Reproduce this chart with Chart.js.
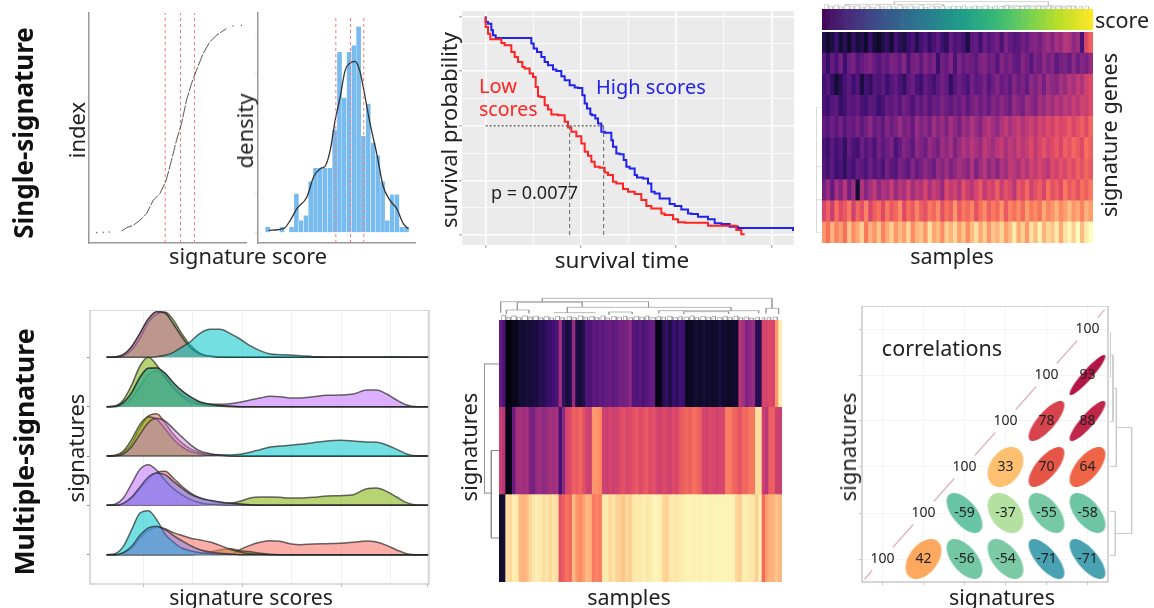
<!DOCTYPE html>
<html><head><meta charset="utf-8">
<style>
html,body{margin:0;padding:0;background:#fff;width:1154px;height:608px;overflow:hidden}
#root{position:absolute;left:0;top:0;width:1154px;height:608px;filter:blur(0.5px)}
canvas{position:absolute}
.t{position:absolute;font-family:"Noto Sans",sans-serif;color:#222;white-space:pre;line-height:1;transform:translate(-50%,-50%)}
.r{transform:translate(-50%,-50%) rotate(-90deg)}
</style>
<script src="https://cdn.jsdelivr.net/npm/chart.js@4"></script>
</head><body><div id="root"></div>
<script>
// ---------- panel 1: ranked signature scores
const rankCurveScore=[98,113,133,153,173,193,213,232,248,263,278,293,308,323,343,363,383,413];
const rankCurveIndex=[36,46,53,68,88,128,148,188,248,308,358,428,478,518,568,603,623,643];
const rankDotsScore=[23,43,61,433,458,483];
const rankDotsIndex=[31,32,33,651,653,654];
const quartileScores=[229,275,317];
// ---------- panel 2: histogram and density
const histBins=[29,43.4,57.8,72.2,86.6,101,115.4,129.8,144.2,158.6,173,187.4,201.8,216.2,230.6,245,259.4,273.8,288.2,302.6,317,331.4,345.8,360.2,374.6,389,403.4,417.8,432.2,446.6];
const histHeights=[17,0,0,17,0,17,117,37,52,154,194,194,194,194,309,542,405,542,562,619,290,387,270,232,154,37,115,115,17,17];
const densityX=[32,77,97,117,147,167,187,202,217,232,247,262,277,292,307,322,337,357,377,397,417,437,452];
const densityY=[7,12,37,72,107,167,192,200,247,337,407,487,509,514,482,407,327,237,137,97,72,27,12];
const densityQuartiles=[234,278,318];
// ---------- panel 3: survival curves
const highTime=[0,7,17,22,30,37,137,144,154,167,177,187,202,212,227,237,252,267,277,290,297,304,314,319,329,337,347,357,377,382,392,402,414,422,432,447,454,472,487,497,507,522,552,567,587,607,617,637,667,687,707,732,757,777,787,922,925];
const highSurv=[657,640,635,615,600,592,592,575,560,550,535,520,510,497,493,477,465,450,443,442,420,395,380,363,360,350,335,310,307,285,265,245,243,225,205,200,180,173,170,155,130,125,110,93,87,77,65,63,55,47,35,33,25,21,21,21,15];
const lowTime=[0,7,14,20,47,57,77,87,97,110,117,132,142,150,157,164,177,187,197,217,237,247,257,272,287,297,307,317,327,342,357,367,382,392,412,427,447,467,482,497,527,537,562,577,597,667,672,752,767,777];
const lowSurv=[655,625,605,588,588,577,570,550,535,520,505,500,485,475,445,417,415,390,377,362,360,340,323,310,297,275,250,238,220,205,202,188,180,160,155,138,130,123,105,87,80,65,60,47,38,37,28,28,15,2];
const medianSurvival=328;
const medianTimes=[252,354];
// ---------- panel 4: signature heatmap ordered by score
const scoreBar=[2,4,6,7,9,11,12,14,16,17,19,21,22,24,26,27,29,30,32,34,35,37,38,40,42,43,45,46,48,50,51,53,54,56,57,59,60,62,63,65,66,68,69,71,72,74,75,77,78,80,81,83,84,86,87,89,90,92,93,94,96,97,98,100];
const geneRow1=[14,8,12,20,9,16,7,18,11,14,8,20,10,7,13,18,10,22,16,12,20,24,14,22,26,18,24,28,20,16,30,24,26,22,12,28,30,22,32,26,30,34,24,36,30,26,28,34,30,36,38,34,40,44,38,46,42,50,48,40,44,24,60,66];
const geneRow2=[28,18,30,24,34,20,32,36,26,30,34,36,30,26,32,28,36,34,30,38,24,34,36,28,38,32,36,20,34,30,38,24,36,30,34,32,28,36,38,32,34,26,38,32,36,30,28,38,34,26,36,32,40,34,38,28,34,36,30,40,32,38,34,42];
const geneRow3=[22,26,18,10,16,24,28,20,26,12,22,18,26,24,28,20,26,30,24,18,28,32,24,20,30,26,22,28,34,30,18,26,32,28,24,34,28,30,36,26,32,38,30,34,28,38,32,36,30,40,36,42,34,44,40,38,46,42,50,46,52,48,56,60];
const geneRow4=[24,20,26,28,18,22,28,26,30,24,22,28,26,20,24,30,28,32,26,34,30,24,32,28,34,26,32,30,36,32,28,34,30,36,28,34,38,32,36,30,38,34,40,36,32,42,38,34,44,40,36,46,42,48,44,50,46,52,48,54,50,56,54,60];
const geneRow5=[30,26,32,28,34,26,32,30,36,28,34,40,30,34,28,38,32,36,42,34,38,30,42,36,40,34,44,38,42,36,46,40,34,44,40,48,42,38,46,50,44,40,48,52,46,50,54,48,52,56,50,58,54,60,56,62,58,60,64,58,62,66,60,68];
const geneRow6=[24,20,28,22,26,18,30,24,22,32,26,30,24,34,28,32,36,24,30,38,34,28,40,36,32,42,38,34,44,40,46,36,42,48,44,50,46,42,52,48,44,50,54,46,52,48,56,50,54,60,52,58,62,56,60,64,58,66,62,68,64,60,70,66];
const geneRow7=[26,22,28,20,24,18,26,22,30,28,24,32,26,30,24,34,28,26,36,32,28,38,30,34,40,36,32,42,38,44,36,40,46,42,38,48,36,44,50,40,46,38,48,44,52,50,46,54,48,56,52,58,54,50,60,56,62,58,64,60,66,62,68,64];
const geneRow8=[34,42,30,46,38,50,34,44,10,48,38,46,52,40,48,44,54,42,50,46,56,44,52,48,58,46,54,50,42,60,52,56,48,62,54,50,58,64,52,60,56,66,54,62,58,50,64,60,68,56,62,66,58,70,62,66,60,72,64,68,62,70,66,72];
const geneRow9=[58,66,54,70,60,64,72,56,68,62,74,58,66,70,60,72,64,68,76,60,70,64,74,66,62,72,68,76,62,70,66,78,64,72,68,74,62,70,76,66,72,68,78,64,74,70,76,68,80,72,76,70,82,74,78,84,76,80,86,78,82,74,84,80];
const geneRow10=[78,70,84,74,80,70,88,76,82,90,72,84,78,88,74,82,90,78,86,80,92,76,84,88,78,94,82,86,76,90,84,92,80,88,76,86,94,82,90,78,88,84,92,80,86,96,82,90,78,94,86,98,84,92,88,96,82,94,98,90,100,86,96,100];
// ---------- panel 5: ridgelines
const ridgeX=[320,345,370,395,420,445,470,495,520,545,570,600,630,660,690,720,750,780,810,840,870,900,940,980,1020,1060,1100,1130,1160,1190,1220,1250,1285];
const ridgeBases=[680,532,384,236,88];
const r1Red=[0,1,8,32,72,115,137,133,100,62,30,10,3,1,0,0,0,0,0,0,0,0,0,0,0,0,0,0,0,0,0,0,0];
const r1Green=[0,0,4,22,58,105,130,136,112,72,38,12,3,1,0,0,0,0,0,0,0,0,0,0,0,0,0,0,0,0,0,0,0];
const r1Cyan=[0,0,0,0,0,0,2,6,15,30,46,72,84,84,72,55,35,20,10,8,7,5,2,0,0,0,0,0,1,2,0,0,0];
const r2Purple=[0,0,5,25,60,95,108,90,62,38,22,10,7,7,9,13,20,26,31,30,26,26,30,34,35,38,50,50,38,20,5,0,0];
const r2Olive=[0,2,20,65,122,148,125,88,55,32,15,7,3,1,0,0,0,0,0,0,0,0,0,0,0,0,0,0,0,0,0,0,0];
const r2Cyan=[0,1,12,42,88,115,116,100,72,48,30,14,7,3,1,0,0,0,0,0,0,0,0,0,0,0,0,0,0,0,0,0,0];
const r3Purple=[0,0,6,28,65,100,113,105,82,58,35,15,7,3,1,0,0,0,0,0,0,0,0,0,0,0,0,0,0,0,0,0,0];
const r3Olive=[0,2,15,50,95,118,110,82,50,28,14,6,2,1,0,0,0,0,0,0,0,0,0,0,0,0,0,0,0,0,0,0,0];
const r3Red=[0,1,10,38,85,120,127,100,65,40,22,10,5,2,1,0,0,0,0,0,0,0,0,0,0,0,0,0,0,0,0,0,0];
const r3Cyan=[0,0,0,0,0,0,0,0,0,0,0,0,1,2,3,5,11,19,27,30,32,35,40,45,47,45,42,41,33,20,6,0,0];
const r4Olive=[0,0,0,0,0,0,0,0,0,0,0,1,2,4,6,12,22,25,25,24,22,22,24,28,29,32,50,52,42,25,8,1,0];
const r4Red=[0,0,5,22,50,78,98,102,82,58,38,22,14,9,6,4,2,1,0,0,0,0,0,0,0,0,0,0,0,0,0,0,0];
const r4Purple=[0,3,22,65,108,122,105,75,50,32,18,8,3,1,0,0,0,0,0,0,0,0,0,0,0,0,0,0,0,0,0,0,0];
const r4Blue=[0,0,6,25,55,85,97,92,72,52,34,22,15,10,6,3,1,0,0,0,0,0,0,0,0,0,0,0,0,0,0,0,0];
const r5Pink=[0,0,0,0,0,0,0,0,0,0,0,0,0,0,1,15,28,37,42,40,33,30,32,33,34,37,41,38,28,14,3,0,0];
const r5Olive=[0,0,0,0,0,0,0,0,0,0,0,2,8,14,18,12,9,4,1,0,0,0,0,0,0,0,0,0,0,0,0,0,0];
const r5Red=[0,0,5,20,50,72,82,78,66,58,50,44,38,28,16,8,3,1,0,0,0,0,0,0,0,0,0,0,0,0,0,0,0];
const r5Cyan=[0,3,25,75,125,132,105,62,38,20,12,6,3,1,0,0,0,0,0,0,0,0,0,0,0,0,0,0,0,0,0,0,0];
const r5Blue=[0,0,6,25,58,80,85,75,58,42,28,15,8,4,2,0,0,0,0,0,0,0,0,0,0,0,0,0,0,0,0,0,0];
// ---------- panel 6: clustered signature heatmap
const sigRow1=[30,25,2,2,5,5,10,9,11,10,12,11,16,14,18,20,22,24,45,18,10,14,42,12,10,14,25,24,28,26,30,28,30,32,28,30,34,33,35,40,26,25,27,24,26,30,30,3,4,14,18,12,20,16,22,20,5,6,8,9,7,10,8,9,7,8,12,8,8,7,8,8,50,45,36,40,42,15,15,58,58,60,58,78,97];
const sigRow2=[55,50,3,5,32,45,46,44,46,36,34,42,44,40,42,46,44,46,22,40,58,60,66,64,68,62,56,55,78,78,76,56,54,58,55,56,60,62,58,60,62,64,60,62,64,60,62,58,56,60,58,56,60,58,64,66,68,66,70,68,66,58,56,60,58,56,58,58,73,73,68,66,62,68,68,72,72,93,93,55,50,66,66,55,55];
const sigRow3=[8,10,94,92,97,96,85,84,86,92,95,97,96,93,95,92,95,93,62,66,70,68,86,78,76,80,86,84,72,74,72,95,96,92,95,91,90,88,92,90,95,96,95,97,95,96,98,98,97,92,90,95,96,95,96,97,98,98,97,98,97,98,98,97,98,98,98,98,98,98,98,92,90,97,97,95,95,90,97,68,80,84,84,88,85];
const sigDendroMain=[[130,65,820,65],[130,65,130,55],[5,55,449,55],[5,55,5,22],[449,55,449,38],[55,53,250,53],[55,53,55,30],[250,53,250,40],[205,38,697,38],[205,38,205,22],[697,38,697,27],[22,30,90,30],[22,30,22,18],[90,30,90,20],[165,22,290,22],[330,24,400,24],[330,24,330,16],[400,24,400,18],[480,28,780,28],[480,28,480,20],[780,28,780,20],[555,25,690,25],[555,25,555,18],[690,25,690,18],[820,65,820,35],[802,35,840,35],[802,35,802,20],[840,35,840,18]];
const leafCaps=[[8,12,14],[24,10,8],[38,14,12],[56,10,7],[70,16,12],[90,10,9],[104,14,11],[122,10,7],[136,14,10],[154,10,6],[170,12,11],[186,10,7],[205,12,10],[222,10,7],[238,14,12],[256,10,8],[272,14,10],[290,10,7],[306,12,12],[322,10,6],[338,14,10],[356,12,8],[374,10,11],[390,12,7],[406,14,10],[424,12,8],[440,10,12],[456,14,7],[474,12,10],[490,10,8],[506,14,11],[524,12,7],[540,10,10],[556,14,8],[574,12,12],[590,10,7],[606,14,10],[624,12,8],[640,10,11],[656,14,7],[674,12,10],[690,10,8],[706,12,11],[722,10,7],[738,12,9],[754,10,6],[770,12,8],[790,8,7],[806,10,8],[824,12,9]];
const sigDendroLeft=[[45,222,0,222],[45,222,45,610],[45,610,23,610],[23,482,23,745],[23,482,0,482],[23,745,0,745]];
const geneDendroTop=[[75,15,380,15],[75,15,75,9],[380,15,380,9],[227,24,710,24],[227,24,227,15],[710,24,710,10],[565,10,795,10],[565,10,565,6],[795,10,795,6]];
const geneDendroLeft=[[0,320,15,320],[0,320,0,700],[0,700,15,700],[0,600,15,600],[0,500,15,500]];
const corrDendro=[[0,112,0,248],[0,180,9,180],[9,180,9,380],[9,380,0,380],[9,280,19,280],[19,280,19,515],[19,515,0,515],[19,398,65,398],[65,398,65,716],[65,716,16,716],[16,650,16,782],[16,650,0,650],[16,782,0,782]];
// ---------- panel 7: correlation matrix
const corrCol=[6,5,6,4,5,6,3,4,5,6,2,3,4,5,6,1,2,3,4,5,6];
const corrRow=[6,5,5,4,4,4,3,3,3,3,2,2,2,2,2,1,1,1,1,1,1];
const corrVal=[100,100,93,100,78,88,100,33,70,64,100,-59,-37,-55,-58,100,42,-56,-54,-71,-71];
const diagFrom=[0.56,1.25,2.25,3.25,4.25,5.25];
const diagTo=[0.75,1.75,2.75,3.75,4.75,5.75];
const diagTail=[6.25,6.42];

// ---------- helpers
const root=document.getElementById('root');
const FONT='"Noto Sans",sans-serif';
function lerpStops(stops,v){v=Math.max(0,Math.min(1,v));const n=stops.length-1,p=v*n,i=Math.min(n-1,Math.floor(p)),f=p-i;
  const a=stops[i],b=stops[i+1];return 'rgb('+[0,1,2].map(k=>Math.round(a[k]+(b[k]-a[k])*f)).join(',')+')';}
const MAGMA=[[0,0,4],[20,14,54],[59,15,112],[100,26,128],[140,41,129],[183,55,121],[222,73,104],[247,112,92],[254,159,109],[254,207,146],[252,253,191]];
const VIRIDIS=[[68,1,84],[72,40,120],[62,74,137],[49,104,142],[38,130,142],[31,158,137],[53,183,121],[110,206,88],[181,222,43],[253,231,37]];
const SPECTRAL=[[94,79,162],[50,136,189],[102,194,165],[171,221,164],[230,245,152],[255,255,191],[254,224,139],[253,174,97],[244,109,67],[213,62,79],[158,1,66]];
const framePlugin={id:'frame',
  beforeDraw(c,a,o){if(o.bg){const r=c.chartArea;c.ctx.save();c.ctx.fillStyle=o.bg;c.ctx.fillRect(r.left,r.top,r.width,r.height);c.ctx.restore();}},
  afterDraw(c,a,o){if(o.border){const r=c.chartArea;c.ctx.save();c.ctx.strokeStyle=o.border;c.ctx.lineWidth=1.5;c.ctx.strokeRect(r.left,r.top,r.width,r.height);c.ctx.restore();}
    if(o.cells){const ctx=c.ctx;ctx.save();ctx.fillStyle='#222';ctx.font='14px '+FONT;ctx.textAlign='center';ctx.textBaseline='middle';
      o.cells.forEach(k=>ctx.fillText(String(k.t),c.scales.x.getPixelForValue(k.x),c.scales.y.getPixelForValue(k.y)));ctx.restore();}}};
function axis(a,b,o){o=o||{};const rev=a>b;const s={type:'linear',min:Math.min(a,b),max:Math.max(a,b),reverse:rev,offset:false,display:o.display===true};
  if(o.display){const L=o.size||0;
    s.ticks={display:false};
    s.grid=o.grid||{display:false};
    s.border=o.border||{display:false};
    s.afterFit=x=>{if(x.isHorizontal())x.height=L;else x.width=L;};
    if(o.values)s.afterBuildTicks=x=>{x.ticks=o.values.map(value=>({value}));};
  }
  return s;}
function make(x0,y0,x1,y1,type,data,scales,o){o=o||{};const ml=o.ml||0,mb=o.mb||0,pr=o.pr||0,pt=o.pt||0;
  const c=document.createElement('canvas');const w=Math.round(x1-x0)+ml+pr,h=Math.round(y1-y0)+mb+pt;
  c.width=w;c.height=h;c.style.width=w+'px';c.style.height=h+'px';c.style.left=(Math.round(x0)-ml)+'px';c.style.top=(Math.round(y0)-pt)+'px';root.appendChild(c);
  data.datasets.forEach((d,i)=>{d.order=-i;if(d.pointRadius===undefined)d.pointRadius=0;});
  return new Chart(c,{type,data,plugins:[framePlugin],options:{responsive:false,animation:false,events:[],
    layout:{autoPadding:false,padding:{left:0,bottom:0,right:pr,top:pt}},
    plugins:{legend:{display:false},tooltip:{enabled:false},frame:o.frame||{}},scales}});}
function xy(xs,ys){return xs.map((x,i)=>({x,y:ys[i]}));}
function segData(segs){const p=[];segs.forEach(s=>{p.push({x:s[0],y:s[1]},{x:s[2],y:s[3]},{x:NaN,y:NaN});});return p;}
function capsToSegs(caps){const p=[];caps.forEach(k=>{p.push([k[0],0,k[0],k[2]],[k[0],k[2],k[0]+k[1],k[2]],[k[0]+k[1],k[2],k[0]+k[1],0]);});return p;}
function lineDs(data,color,width,extra){return Object.assign({type:'line',data,borderColor:color,borderWidth:width,fill:false,tension:0,spanGaps:false},extra||{});}
function vlines(vals,y0,y1,color,width,dash){return vals.map(v=>lineDs([{x:v,y:y0},{x:v,y:y1}],color,width,{borderDash:dash}));}
function label(text,x,y,size,o){o=o||{};const d=document.createElement('div');d.className='t'+(o.rot?' r':'');d.textContent=text;
  d.style.left=x+'px';d.style.top=y+'px';d.style.fontSize=size+'px';if(o.bold)d.style.fontWeight='700';if(o.color)d.style.color=o.color;
  if(o.left){d.style.transform='translate(0,-50%)';}root.appendChild(d);}
const axisLine={color:'#999',width:1.5};
const DASHRED='#f7767c';

// ---------- draw
function drawAll(){
// panel 1
make(89,12,247,243,'line',{datasets:[
  ...vlines(quartileScores,0,690,DASHRED,1,[3,3]),
  lineDs(xy(rankCurveScore,rankCurveIndex),'#444',0.9,{borderDash:[12,1.5]}),
  lineDs(xy(rankDotsScore,rankDotsIndex),'#777',0,{showLine:false,pointRadius:0.8,pointBackgroundColor:'#777',pointBorderWidth:0})
]},{x:axis(0,475,{display:true,size:2,border:axisLine}),y:axis(0,693,{display:true,size:2,border:axisLine})},{ml:2,mb:2});
// panel 2
make(258,12,416,243,'line',{datasets:[
  {type:'bar',data:xy(histBins,histHeights),backgroundColor:'#78bbee',borderColor:'#fff',borderWidth:0.4,barPercentage:1,categoryPercentage:1},
  lineDs(xy(densityX,densityY),'#333',1.3,{tension:0.4,cubicInterpolationMode:'monotone'}),
  ...vlines(densityQuartiles,-31,652,DASHRED,1,[3,3])
]},{x:axis(0,475,{display:true,size:2,border:axisLine}),
    y:axis(-31,662,{display:true,size:5,border:axisLine,values:[0,119,238,357,477,596],grid:{drawOnChartArea:false,tickLength:3,color:'#ddd'}})},{ml:5,mb:2});
// panel 3
const kmXMajor=[0,285,570,857],kmXMinor=[142,427,712],kmYMajor=[0,164,328,492,655],kmYMinor=[82,246,410,574];
function kmGrid(major){return {color:c=>'#fff',lineWidth:c=>major.includes(c.tick&&c.tick.value)?1.6:0.7,tickLength:3,tickColor:c=>major.includes(c.tick&&c.tick.value)?'#999':'rgba(0,0,0,0)',tickWidth:1};}
make(462,11,794,245,'line',{datasets:[
  lineDs(xy(highTime,highSurv),'#2222ee',2,{stepped:'after'}),
  lineDs(xy(lowTime,lowSurv),'#ff2323',2,{stepped:'after'}),
  lineDs([{x:0,y:medianSurvival},{x:medianTimes[1],y:medianSurvival}],'#444',1.2,{borderDash:[2,2]}),
  ...vlines(medianTimes,0,medianSurvival,'#666',1,[4,3])
]},{x:axis(-71,925,{display:true,size:3,values:[...kmXMinor,...kmXMajor],grid:kmGrid(kmXMajor)}),
    y:axis(-30,673,{display:true,size:3,values:[...kmYMinor,...kmYMajor],grid:kmGrid(kmYMajor)})},{ml:3,mb:3,frame:{bg:'#ebebeb'}});
// panel 4
const geneRows=[geneRow1,geneRow2,geneRow3,geneRow4,geneRow5,geneRow6,geneRow7,geneRow8,geneRow9,geneRow10];
const sampleLabels=scoreBar.map((_,i)=>'s'+(i+1));
make(822,9,1093,30,'bar',{labels:sampleLabels,datasets:[{data:scoreBar.map(()=>[0,1]),backgroundColor:scoreBar.map(v=>lerpStops(VIRIDIS,v/100)),barPercentage:1,categoryPercentage:1}]},
  {x:{type:'category',display:false},y:axis(0,1)});
make(822,32,1093,243,'bar',{labels:sampleLabels,datasets:geneRows.map((row,k)=>({data:row.map(()=>[9-k,10-k]),backgroundColor:row.map(v=>lerpStops(MAGMA,v/100)),barPercentage:1,categoryPercentage:1,grouped:false}))},
  {x:{type:'category',display:false},y:axis(0,10)});
make(822,1,1093,9,'line',{datasets:[lineDs(segData([...capsToSegs(leafCaps),...geneDendroTop]),'#bbb',0.6)]},{x:axis(0,850),y:axis(0,26)});
make(816,107,822,233,'line',{datasets:[lineDs(segData(geneDendroLeft),'#ccc',0.7)]},{x:axis(0,15),y:axis(700,320)});
// panel 5
const RED='rgba(248,118,109,.6)',DEEP='rgba(90,160,100,.45)',CYAN='rgba(0,196,200,.55)',OLIVE='rgba(124,174,0,.55)',PURPLE='rgba(199,124,255,.6)',PURPLE2='rgba(199,124,220,.45)',BLUE='rgba(97,126,255,.5)',BLUE5='rgba(97,126,255,.4)';
const ridgeSets=[[[r1Red,RED],[r1Green,OLIVE],[r1Red,PURPLE2],[r1Cyan,CYAN]],
 [[r2Purple,PURPLE],[r2Olive,OLIVE],[r2Cyan,CYAN],[r2Cyan,DEEP]],
 [[r3Red,RED],[r3Olive,OLIVE],[r3Purple,PURPLE2],[r3Cyan,CYAN]],
 [[r4Olive,OLIVE],[r4Red,RED],[r4Purple,PURPLE],[r4Blue,BLUE]],
 [[r5Pink,RED],[r5Olive,OLIVE],[r5Red,RED],[r5Cyan,CYAN],[r5Blue,BLUE5]]];
const ridgeDs=[];
ridgeSets.forEach((set,k)=>set.forEach(s=>{const b=ridgeBases[k];
  ridgeDs.push(lineDs(ridgeX.map((x,i)=>({x,y:b+s[0][i]})),'rgba(40,40,40,.7)',1.5,{fill:{value:b},backgroundColor:s[1],cubicInterpolationMode:'monotone'}));}));
const rMaj=[430,727,1024,1283],rMin=[578,875,1172];
make(90,310,429,584,'line',{datasets:ridgeDs},
 {x:axis(270,1287,{display:true,size:3,values:[...rMaj,...rMin],grid:{color:'#eee',lineWidth:0.8,tickLength:3,tickColor:c=>rMaj.includes(c.tick&&c.tick.value)?'#aaa':'rgba(0,0,0,0)'}}),
  y:axis(0,822,{display:true,size:3,values:ridgeBases,grid:{drawOnChartArea:false,tickLength:3,color:'#888'}})},{ml:3,mb:3,pr:1,frame:{border:'#cfcfcf'}});
// panel 6
const sigRows=[sigRow1,sigRow2,sigRow3];
make(499,320,782,582,'bar',{labels:sigRow1.map((_,i)=>'s'+(i+1)),datasets:sigRows.map((row,k)=>({data:row.map(()=>[2-k,3-k]),backgroundColor:row.map(v=>lerpStops(MAGMA,v/100)),barPercentage:1,categoryPercentage:1,grouped:false}))},
 {x:{type:'category',display:false},y:axis(0,3)});
make(499,296,782,320,'line',{datasets:[lineDs(segData([...capsToSegs(leafCaps),...sigDendroMain]),'#888',0.6)]},{x:axis(0,850),y:axis(0,72)});
make(484,320,499,582,'line',{datasets:[lineDs(segData(sigDendroLeft),'#888',1)]},{x:axis(45,0),y:axis(877,90)});
// panel 7
const cellW=41.1,cellH=46;
function ellipseCanvas(r){const cv=document.createElement('canvas');cv.width=Math.ceil(cellW);cv.height=Math.ceil(cellH);const g=cv.getContext('2d');
  const d=Math.acos(r/100),a=.435*cellW,b=.435*cellH,cx=cv.width/2,cy=cv.height/2;g.beginPath();
  for(let i=0;i<=72;i++){const t=i/72*2*Math.PI;const px=cx+a*Math.cos(t+d/2),py=cy-b*Math.cos(t-d/2);i?g.lineTo(px,py):g.moveTo(px,py);}
  g.closePath();g.fillStyle=lerpStops(SPECTRAL,(r+100)/200);g.fill();return cv;}
const offIdx=corrVal.map((v,i)=>v<100?i:-1).filter(i=>i>=0);
const diagSegs=diagFrom.map((f,i)=>[f,f,diagTo[i],diagTo[i]]).concat([[diagTail[0],diagTail[0],diagTail[1],diagTail[1]]]);
const corrTicks=[1,2,3,4,5,6];
make(862,306,1108,582,'line',{datasets:[
  lineDs(segData(diagSegs),'#dcb4c2',1.3),
  {type:'line',data:offIdx.map(i=>({x:corrCol[i],y:corrRow[i]})),showLine:false,pointStyle:offIdx.map(i=>ellipseCanvas(corrVal[i])),pointRadius:20}
]},{x:axis(0.5,6.5,{display:true,size:3,values:corrTicks,grid:{color:'#f3f3f3',lineWidth:0.8,tickLength:3,tickColor:'#bbb'}}),
    y:axis(0.5,6.5,{display:true,size:3,values:corrTicks,grid:{color:'#f3f3f3',lineWidth:0.8,tickLength:3,tickColor:'#bbb'}})},
 {ml:3,mb:3,pr:1,frame:{border:'#c8c8c8',cells:corrVal.map((t,i)=>({t,x:corrCol[i],y:corrRow[i]}))}});
make(1110,325,1135,578,'line',{datasets:[lineDs(segData(corrDendro),'#c8c8c8',1)]},{x:axis(0,75),y:axis(850,90)});
// text
label('Single-signature',23,133,26,{rot:1,bold:1,color:'#111'});
label('Multiple-signature',24,452,26.7,{rot:1,bold:1,color:'#111'});
label('index',76,130,22,{rot:1});
label('density',244,131,22,{rot:1});
label('signature score',248,256,21.8);
label('survival probability',448,130,22,{rot:1});
label('survival time',622,260,22.5);
label('Low',479,86,20,{left:1,color:'#ff2323'});
label('scores',479,109,19.5,{left:1,color:'#ff2323'});
label('High scores',596,87,20,{left:1,color:'#2222ee'});
label('p = 0.0077',491,192,18,{left:1});
label('score',1122,20,21.5);
label('signature genes',1109,135,21.7,{rot:1});
label('samples',952,256,21.5);
label('signatures',75,448,22,{rot:1});
label('signature scores',251,597,21.2);
label('signatures',468,447,22,{rot:1});
label('samples',629,597,21.5);
label('signatures',847,447,22,{rot:1});
label('signatures',1002,597,21.4);
label('correlations',942,348,21.5);
}
drawAll();
</script></body></html>
